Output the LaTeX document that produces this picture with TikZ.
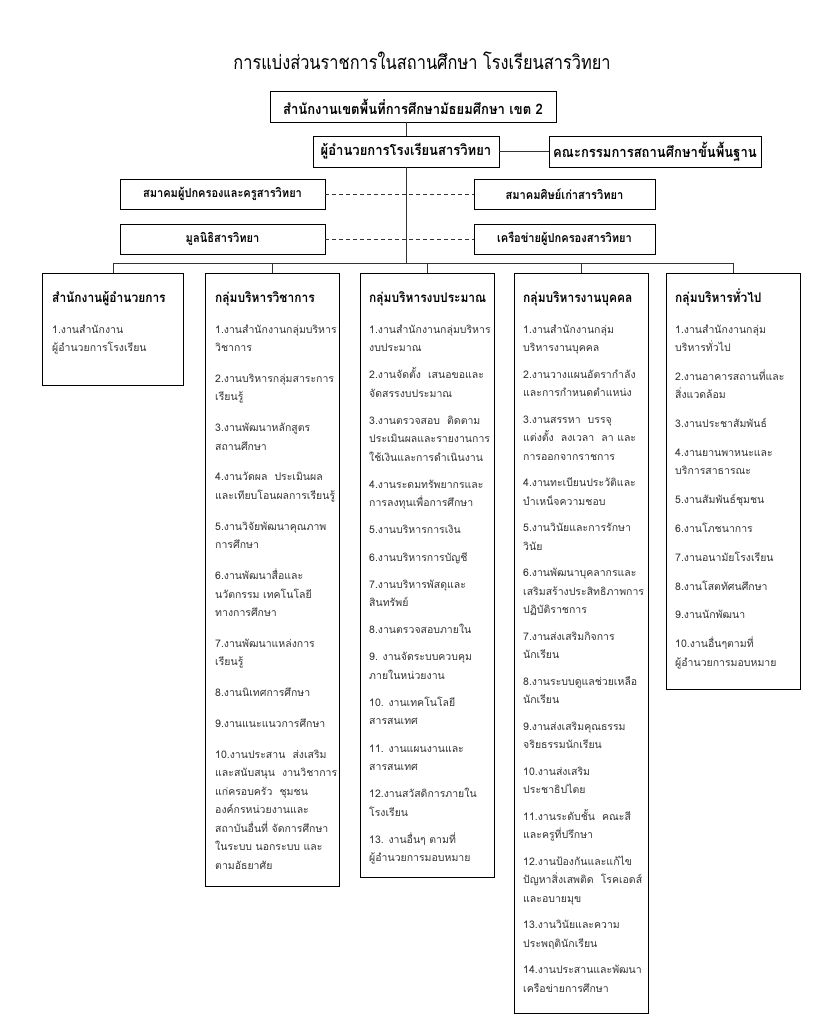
\documentclass[tikz,border=0pt]{standalone}
\usepackage{fontspec}
\newfontfamily\thai[Script=Thai]{Loma}
\newfontfamily\thaic[Script=Thai,FakeStretch=0.9]{Loma}
\newfontfamily\thait[Script=Thai,FakeStretch=0.84]{Loma}
\newcounter{lnc}
\newcommand\Lx{0}\newcommand\Ly{0}\newcommand\Lgap{28}
\newcommand\Lstep{18.5}
\newcommand\Col[3]{\xdef\Lx{#1}\xdef\Ly{#2}\xdef\Lgap{#3}}
\newcommand\Ln[1]{\stepcounter{lnc}\node[itm] (ln\arabic{lnc}) at (\Lx,\Ly) {#1};\xdef\Ly{\fpeval{\Ly+\Lstep}}}
\newcommand\Ig{\xdef\Ly{\fpeval{\Ly+\Lgap-\Lstep}}}
\tikzset{
  topbox/.style={draw=black, line width=0.9pt, inner sep=0pt, text=black,
    font=\thaic\bfseries\fontsize{14.5}{17}\selectfont},
  subbox/.style={topbox, minimum height=30pt,
    font=\thaic\bfseries\fontsize{12.3}{15}\selectfont},
  colbox/.style={draw=black, line width=1.2pt, inner sep=0pt, anchor=north west},
  hdr/.style={anchor=base west, inner sep=0pt, text=black,
    font=\thaic\bfseries\fontsize{13.3}{16}\selectfont},
  itm/.style={anchor=base west, inner sep=0pt, text=black!80,
    font=\thai\fontsize{10.5}{12}\selectfont},
  conn/.style={draw=black!80, line width=0.8pt},
  dashlink/.style={draw=black!80, line width=0.8pt, dash pattern=on 4pt off 3pt},
}
\begin{document}
\begin{tikzpicture}[x=1pt,y=-1pt]
\useasboundingbox[fill=white] (0,0) rectangle (837,1024);
% title
\node[inner sep=0pt, font=\thait\fontsize{19.5}{24}\selectfont] (title) at (422,61)
  {การแบ่งส่วนราชการในสถานศึกษา โรงเรียนสารวิทยา};
% top boxes
\node[topbox, minimum width=286pt, minimum height=31pt] (b1) at (413,106.5)
  {สำนักงานเขตพื้นที่การศึกษามัธยมศึกษา เขต 2};
\node[topbox, minimum width=186pt, minimum height=31pt] (b2) at (406,151.5)
  {ผู้อำนวยการโรงเรียนสารวิทยา};
\node[topbox, minimum width=212pt, minimum height=31pt] (b3) at (655,151.5)
  {คณะกรรมการสถานศึกษาขั้นพื้นฐาน};
\node[subbox, minimum width=205pt] (p1) at (222.5,194) {สมาคมผู้ปกครองและครูสารวิทยา};
\node[subbox, minimum width=181pt] (p2) at (564.5,194) {สมาคมศิษย์เก่าสารวิทยา};
\node[subbox, minimum width=205pt] (p3) at (222.5,239) {มูลนิธิสารวิทยา};
\node[subbox, minimum width=181pt] (p4) at (564.5,239) {เครือข่ายผู้ปกครองสารวิทยา};
% column boxes
\node[colbox, minimum width=141pt, minimum height=112pt] (c1) at (42,273) {};
\node[colbox, minimum width=134pt, minimum height=613pt] (c2) at (205,273) {};
\node[colbox, minimum width=134pt, minimum height=604pt] (c3) at (360,273) {};
\node[colbox, minimum width=134pt, minimum height=740pt] (c4) at (514,273) {};
\node[colbox, minimum width=134pt, minimum height=416pt] (c5) at (666,273) {};
% connectors
\coordinate (bus) at (406,263);
\draw[conn] (b2.north |- b1.south) -- (b2.north);
\draw[conn] (b2.east) -- (b3.west);
\draw[conn] (b2.south) -- (b2.south |- bus);
\draw[dashlink] (p1.east) -- (p2.west);
\draw[dashlink] (p3.east) -- (p4.west);
\draw[conn] (c1.north) -- (c1.north |- bus) -- (c5.north |- bus) -- (c5.north);
\draw[conn] (c2.north) -- (c2.north |- bus);
\draw[conn] (c3.north) -- (c3.north |- bus);
\draw[conn] (c4.north) -- (c4.north |- bus);
% headers
\node[hdr] (h1) at (52,302) {สำนักงานผู้อำนวยการ};
\node[hdr] (h2) at (215,302) {กลุ่มบริหารวิชาการ};
\node[hdr] (h3) at (369,302) {กลุ่มบริหารงบประมาณ};
\node[hdr] (h4) at (523,302) {กลุ่มบริหารงานบุคคล};
\node[hdr] (h5) at (675,302) {กลุ่มบริหารทั่วไป};
% column 1
\Col{52}{333}{28}
\Ln{1.งานสำนักงาน}\Ln{ผู้อำนวยการโรงเรียน}
% column 2
\Col{215}{333}{30.8}
\Ln{1.งานสำนักงานกลุ่มบริหาร}\Ln{วิชาการ}\Ig
\Ln{2.งานบริหารกลุ่มสาระการ}\Ln{เรียนรู้}\Ig
\Ln{3.งานพัฒนาหลักสูตร}\Ln{สถานศึกษา}\Ig
\Ln{4.งานวัดผล\ \ ประเมินผล}\Ln{และเทียบโอนผลการเรียนรู้}\Ig
\Ln{5.งานวิจัยพัฒนาคุณภาพ}\Ln{การศึกษา}\Ig
\Ln{6.งานพัฒนาสื่อและ}\Ln{นวัตกรรม เทคโนโลยี}\Ln{ทางการศึกษา}\Ig
\Ln{7.งานพัฒนาแหล่งการ}\Ln{เรียนรู้}\Ig
\Ln{8.งานนิเทศการศึกษา}\Ig
\Ln{9.งานแนะแนวการศึกษา}\Ig
\Ln{10.งานประสาน\ \ ส่งเสริม}\Ln{และสนับสนุน\ \ งานวิชาการ}\Ln{แก่ครอบครัว\ \ ชุมชน}\Ln{องค์กรหน่วยงานและ}\Ln{สถาบันอื่นที่ จัดการศึกษา}\Ln{ในระบบ นอกระบบ และ}\Ln{ตามอัธยาศัย}
% column 3
\Col{369}{333}{27.1}
\Ln{1.งานสำนักงานกลุ่มบริหาร}\Ln{งบประมาณ}\Ig
\Ln{2.งานจัดตั้ง\ \ เสนอขอและ}\Ln{จัดสรรงบประมาณ}\Ig
\Ln{3.งานตรวจสอบ\ \ ติดตาม}\Ln{ประเมินผลและรายงานการ}\Ln{ใช้เงินและการดำเนินงาน}\Ig
\Ln{4.งานระดมทรัพยากรและ}\Ln{การลงทุนเพื่อการศึกษา}\Ig
\Ln{5.งานบริหารการเงิน}\Ig
\Ln{6.งานบริหารการบัญชี}\Ig
\Ln{7.งานบริหารพัสดุและ}\Ln{สินทรัพย์}\Ig
\Ln{8.งานตรวจสอบภายใน}\Ig
\Ln{9. งานจัดระบบควบคุม}\Ln{ภายในหน่วยงาน}\Ig
\Ln{10. งานเทคโนโลยี}\Ln{สารสนเทศ}\Ig
\Ln{11. งานแผนงานและ}\Ln{สารสนเทศ}\Ig
\Ln{12.งานสวัสดิการภายใน}\Ln{โรงเรียน}\Ig
\Ln{13. งานอื่นๆ ตามที่}\Ln{ผู้อำนวยการมอบหมาย}
% column 4
\Col{523}{333}{26.5}
\Ln{1.งานสำนักงานกลุ่ม}\Ln{บริหารงานบุคคล}\Ig
\Ln{2.งานวางแผนอัตรากำลัง}\Ln{และการกำหนดตำแหน่ง}\Ig
\Ln{3.งานสรรหา\ \ บรรจุ}\Ln{แต่งตั้ง\ \ ลงเวลา\ \ ลา และ}\Ln{การออกจากราชการ}\Ig
\Ln{4.งานทะเบียนประวัติและ}\Ln{บำเหน็จความชอบ}\Ig
\Ln{5.งานวินัยและการรักษา}\Ln{วินัย}\Ig
\Ln{6.งานพัฒนาบุคลากรและ}\Ln{เสริมสร้างประสิทธิภาพการ}\Ln{ปฏิบัติราชการ}\Ig
\Ln{7.งานส่งเสริมกิจการ}\Ln{นักเรียน}\Ig
\Ln{8.งานระบบดูแลช่วยเหลือ}\Ln{นักเรียน}\Ig
\Ln{9.งานส่งเสริมคุณธรรม}\Ln{จริยธรรมนักเรียน}\Ig
\Ln{10.งานส่งเสริม}\Ln{ประชาธิปไตย}\Ig
\Ln{11.งานระดับชั้น\ \ คณะสี}\Ln{และครูที่ปรึกษา}\Ig
\Ln{12.งานป้องกันและแก้ไข}\Ln{ปัญหาสิ่งเสพติด\ \ โรคเอดส์}\Ln{และอบายมุข}\Ig
\Ln{13.งานวินัยและความ}\Ln{ประพฤตินักเรียน}\Ig
\Ln{14.งานประสานและพัฒนา}\Ln{เครือข่ายการศึกษา}
% column 5
\Col{675}{333}{28.8}
\Ln{1.งานสำนักงานกลุ่ม}\Ln{บริหารทั่วไป}\Ig
\Ln{2.งานอาคารสถานที่และ}\Ln{สิ่งแวดล้อม}\Ig
\Ln{3.งานประชาสัมพันธ์}\Ig
\Ln{4.งานยานพาหนะและ}\Ln{บริการสาธารณะ}\Ig
\Ln{5.งานสัมพันธ์ชุมชน}\Ig
\Ln{6.งานโภชนาการ}\Ig
\Ln{7.งานอนามัยโรงเรียน}\Ig
\Ln{8.งานโสตทัศนศึกษา}\Ig
\Ln{9.งานนักพัฒนา}\Ig
\Ln{10.งานอื่นๆตามที่}\Ln{ผู้อำนวยการมอบหมาย}
\end{tikzpicture}
\end{document}
